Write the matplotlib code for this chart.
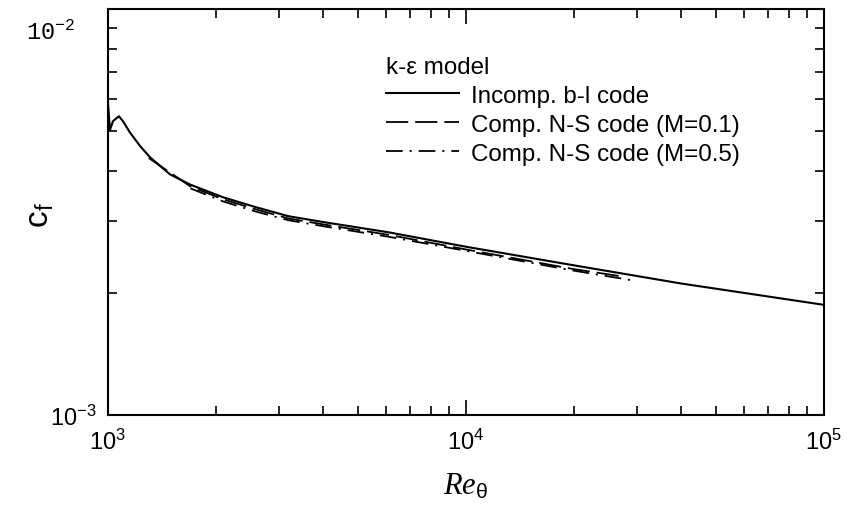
import matplotlib
matplotlib.use("Agg")
import matplotlib.pyplot as plt
import matplotlib.transforms as mtransforms
from matplotlib.ticker import LogLocator, NullFormatter, FixedLocator

plt.rcParams["font.family"] = ["Liberation Sans", "DejaVu Sans"]
plt.rcParams["lines.scale_dashes"] = False
plt.rcParams["mathtext.fontset"] = "custom"
plt.rcParams["mathtext.rm"] = "Liberation Sans"
plt.rcParams["mathtext.it"] = "Liberation Serif:italic"

# Incompressible boundary-layer code (solid)
re_bl = [1000, 1013, 1033, 1073, 1101, 1152, 1174, 1230, 1310, 1490, 1695, 2100, 2600,
         3200, 4000, 6100, 10000, 20000, 40000, 70000, 100000]
cf_bl = [5.90e-3, 5.04e-3, 5.30e-3, 5.45e-3, 5.30e-3, 4.97e-3, 4.86e-3, 4.60e-3, 4.32e-3,
         3.92e-3, 3.70e-3, 3.44e-3, 3.25e-3, 3.09e-3, 2.99e-3, 2.82e-3, 2.60e-3, 2.34e-3,
         2.11e-3, 1.96e-3, 1.87e-3]

# Compressible N-S code, M=0.1 (dashed)
re_m01 = [1300, 1700, 2100, 2600, 3200, 4000, 6100, 10000, 20000, 27000]
cf_m01 = [4.30e-3, 3.66e-3, 3.40e-3, 3.21e-3, 3.05e-3, 2.95e-3, 2.78e-3, 2.56e-3, 2.29e-3, 2.20e-3]

# Compressible N-S code, M=0.5 (dash-dot)
re_m05 = [1700, 2100, 2600, 3200, 4000, 6100, 10000, 20000, 30000]
cf_m05 = [3.62e-3, 3.36e-3, 3.17e-3, 3.02e-3, 2.92e-3, 2.75e-3, 2.54e-3, 2.27e-3, 2.14e-3]

labels = ["Incomp. b-l code", "Comp. N-S code (M=0.1)", "Comp. N-S code (M=0.5)"]

fig = plt.figure(figsize=(8.5, 5.1), dpi=100)
ax = fig.add_axes([0.127, 0.184, 0.842, 0.796])

ax.plot(re_bl, cf_bl, color="black", lw=1.5, label=labels[0])
ax.plot(re_m01, cf_m01, color="black", lw=1.3, linestyle=(0, (16, 5)), label=labels[1])
ax.plot(re_m05, cf_m05, color="black", lw=1.3, linestyle=(0, (12, 5, 1.5, 5)), label=labels[2])

ax.set_xscale("log")
ax.set_yscale("log")
ax.set_xlim(1e3, 1e5)
ax.set_ylim(1e-3, 1e-2)

for s in ax.spines.values():
    s.set_linewidth(1.5)

ax.xaxis.set_major_locator(FixedLocator([1e3, 1e4, 1e5]))
ax.yaxis.set_major_locator(FixedLocator([1e-3, 1e-2]))
ax.xaxis.set_minor_locator(LogLocator(base=10, subs=range(2, 10)))
ax.yaxis.set_minor_locator(LogLocator(base=10, subs=range(2, 10)))
ax.xaxis.set_minor_formatter(NullFormatter())
ax.yaxis.set_minor_formatter(NullFormatter())
ax.tick_params(which="both", direction="in", top=True, right=True, width=1.2, labelsize=17)
ax.tick_params(which="major", length=11)
ax.tick_params(which="minor", length=6.5)
ax.tick_params(axis="x", pad=10)
ax.tick_params(axis="y", pad=8)

fig.canvas.draw()
ylabs = ax.get_yticklabels()
ylabs[1].set_family(["Liberation Mono", "DejaVu Sans Mono"])
ylabs[1].set_transform(ylabs[1].get_transform() +
                       mtransforms.ScaledTranslation(-0.22, -0.2, fig.dpi_scale_trans))

# y label placed in figure coordinates so it is not clipped
fig.text(40 / 850, 1 - 215 / 510, r"$\mathregular{c_f}$", fontsize=24,
         rotation=90, ha="center", va="center")
ax.set_xlabel(r"$Re_{\mathrm{\theta}}$", fontsize=22, labelpad=12)

leg = ax.legend(loc="upper left", bbox_to_anchor=(0.372, 0.915), frameon=False,
                title="k-\u03b5 model", fontsize=17.4, title_fontsize=17.4,
                handlelength=3.0, handletextpad=0.5, labelspacing=0.29,
                borderpad=0, alignment="left")

fig.savefig("out.png", dpi=100)
